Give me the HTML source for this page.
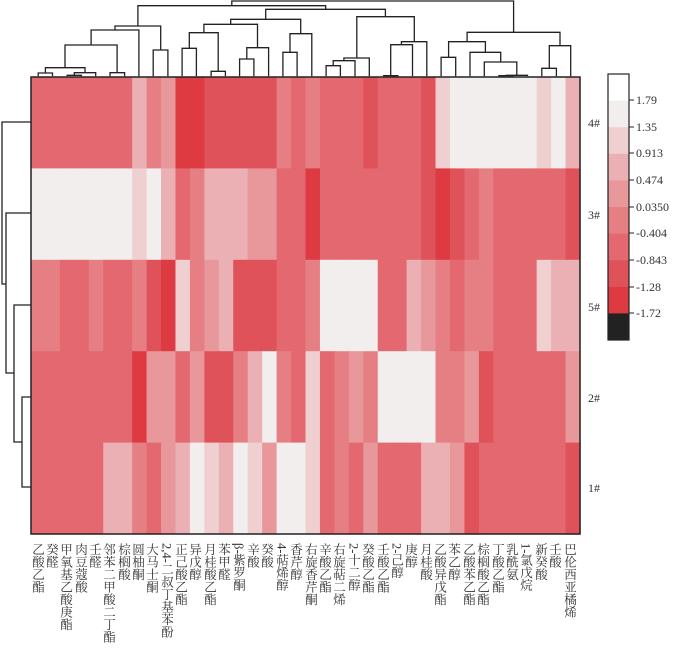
<!DOCTYPE html>
<html><head><meta charset="utf-8">
<style>
html,body{margin:0;padding:0;background:#fff;}
#wrap{position:relative;width:678px;height:654px;overflow:hidden;font-family:"Liberation Serif","Noto Serif CJK SC",serif;}
svg{position:absolute;left:0;top:0;}
.lab{position:absolute;top:543px;writing-mode:vertical-rl;text-orientation:mixed;font-size:12.5px;line-height:13px;color:#333;white-space:nowrap;transform:translateX(-50%);}
.rl{position:absolute;left:588px;font-size:12px;color:#333;line-height:12px;}
.cb{position:absolute;left:636px;font-size:12px;color:#333;line-height:12px;}
</style></head><body><div id="wrap">
<svg id="s" width="678" height="654" xmlns="http://www.w3.org/2000/svg">
<g id="cells"></g>
<rect x="31" y="77" width="549" height="457" fill="none" stroke="#222" stroke-width="1.5"/>
<g id="dend" fill="none" stroke="#222" stroke-width="1.3"></g>
<g fill="none" stroke="#222" stroke-width="1.3">
<path d="M31 122 H2 V284 H6"/>
<path d="M31 213 H6 V373 H14"/>
<path d="M31 305 H14 V442 H22"/>
<path d="M31 397 H22 V487 H31"/>
</g>
<g id="cbar"></g>
<rect x="608" y="74" width="21" height="266" fill="none" stroke="#222" stroke-width="1.2"/>
<g stroke="#222" stroke-width="1">
<path d="M629 100h5M629 127h5M629 153h5M629 180h5M629 207h5M629 233h5M629 260h5M629 287h5M629 313h5"/>
</g>
</svg>
<div class="rl" style="top:117px">4#</div>
<div class="rl" style="top:209px">3#</div>
<div class="rl" style="top:301px">5#</div>
<div class="rl" style="top:392px">2#</div>
<div class="rl" style="top:482px">1#</div>
<div class="cb" style="top:94px">1.79</div>
<div class="cb" style="top:121px">1.35</div>
<div class="cb" style="top:147px">0.913</div>
<div class="cb" style="top:174px">0.474</div>
<div class="cb" style="top:201px">0.0350</div>
<div class="cb" style="top:227px">-0.404</div>
<div class="cb" style="top:254px">-0.843</div>
<div class="cb" style="top:281px">-1.28</div>
<div class="cb" style="top:307px">-1.72</div>
<div class="lab" style="left:37px">乙酸乙酯</div>
<div class="lab" style="left:51px">癸醛</div>
<div class="lab" style="left:65px">甲氧基乙酸庚酯</div>
<div class="lab" style="left:80px">肉豆蔻酸</div>
<div class="lab" style="left:94px">壬醛</div>
<div class="lab" style="left:108px">邻苯二甲酸二丁酯</div>
<div class="lab" style="left:123px">棕榈酸</div>
<div class="lab" style="left:137px">圆柚酮</div>
<div class="lab" style="left:151px">大马士酮</div>
<div class="lab" style="left:166px">2,4-二叔丁基苯酚</div>
<div class="lab" style="left:180px">正己酸乙酯</div>
<div class="lab" style="left:194px">异戊醇</div>
<div class="lab" style="left:209px">月桂酸乙酯</div>
<div class="lab" style="left:223px">苯甲醛</div>
<div class="lab" style="left:238px">β-紫罗酮</div>
<div class="lab" style="left:252px">辛酸</div>
<div class="lab" style="left:266px">癸酸</div>
<div class="lab" style="left:281px">4-萜烯醇</div>
<div class="lab" style="left:295px">香芹醇</div>
<div class="lab" style="left:310px">右旋香芹酮</div>
<div class="lab" style="left:324px">辛酸乙酯</div>
<div class="lab" style="left:338px">右旋萜二烯</div>
<div class="lab" style="left:353px">2-十二醇</div>
<div class="lab" style="left:367px">癸酸乙酯</div>
<div class="lab" style="left:382px">壬酸乙酯</div>
<div class="lab" style="left:396px">2-己醇</div>
<div class="lab" style="left:410px">庚醇</div>
<div class="lab" style="left:425px">月桂酸</div>
<div class="lab" style="left:439px">乙酸异戊酯</div>
<div class="lab" style="left:453px">苯乙醇</div>
<div class="lab" style="left:468px">乙酸苯乙酯</div>
<div class="lab" style="left:482px">棕榈酸乙酯</div>
<div class="lab" style="left:497px">丁酸乙酯</div>
<div class="lab" style="left:511px">乳酰氨</div>
<div class="lab" style="left:525px">1-氯戊烷</div>
<div class="lab" style="left:540px">新癸酸</div>
<div class="lab" style="left:554px">壬酸</div>
<div class="lab" style="left:569px">巴伦西亚橘烯</div>
</div>
<script>
var C={A:"#dd3a42",B:"#e0525a",C:"#e3686f",D:"#e57f84",E:"#e8979b",F:"#ebb0b3",G:"#efcfd0",H:"#f2eeee"};
var rows=[
"CCCCCCCFDEAABBBBBDCCDCCCBCCCBGHHHHHHGHF",
"HHHHHHHGHFCDFFFEECCACCCCCCCBABCDCCCCCB",
"DDCCDCCDBAGDEFBBBCCDHHHHCCFEDCDDCCCGFF",
"CCCCCCCAEECEBBDFHDCGCDEDHHHHDDEBCCCCCE",
"CCCCCFFDCEFHGFHGEHHGCDCECCCFFEBCCCCCCB"];
rows[0]="CCCCCCCFDEAABBBBBDCDCCCBCCCBGHHHHHHGHF";
var g=document.getElementById("cells"),s="";
var x0=31,w=549/38,y0=77,h=457/5;
for(var r=0;r<5;r++){for(var c=0;c<38;c++){var k=rows[r][c]||"C";
s+='<rect x="'+(x0+c*w).toFixed(2)+'" y="'+(y0+r*h).toFixed(2)+'" width="'+(w+0.6).toFixed(2)+'" height="'+(h+0.6).toFixed(2)+'" fill="'+C[k]+'"/>';}}
g.innerHTML=s;
var cb=["#ffffff","#f2eeee","#efcfd0","#ebb0b3","#e8979b","#e57f84","#e3686f","#e0525a","#dd3a42","#222222"],t="";
for(var i=0;i<10;i++)t+='<rect x="608" y="'+(74+i*26.6).toFixed(1)+'" width="21" height="27" fill="'+cb[i]+'"/>';
document.getElementById("cbar").innerHTML=t;
var L=[[51,229,91,229,219],[132,229,172,229,226],[152,226,212,229,218],[71,219,182,218,203],[252,229,293,229,218],[126,203,272,218,135],[199,135,333,229,90],[373,229,414,229,150],[266,90,394,150,78],[454,229,494,229,145],[535,229,575,229,214],[474,145,555,214,98],[615,229,655,229,177],[635,177,696,229,143],[515,98,665,143,73],[736,229,776,229,157],[756,157,817,229,101],[590,73,786,101,58],[857,229,897,229,197],[877,197,938,229,182],[907,182,978,229,174],[1018,229,1058,229,227],[1038,227,1099,229,134],[1068,134,1139,229,125],[943,174,1104,125,50],[688,58,1023,50,28],[330,78,856,28,17],[1179,229,1220,229,172],[1341,229,1381,229,227],[1361,227,1421,229,226],[1300,229,1391,226,186],[1260,229,1346,186,157],[1200,172,1303,157,125],[1461,229,1502,229,205],[1482,205,1542,229,137],[1252,125,1512,137,97],[593,17,1382,97,3]];
function X(v){return (20+v/2.8).toFixed(1)}function Y(v){return (v/3).toFixed(1)}
var d="";L.forEach(function(a){d+="M"+X(a[0])+" "+Y(a[1])+"V"+Y(a[4])+"H"+X(a[2])+"V"+Y(a[3]);});
document.getElementById("dend").innerHTML='<path d="'+d+'"/>';
</script>
</body></html>
